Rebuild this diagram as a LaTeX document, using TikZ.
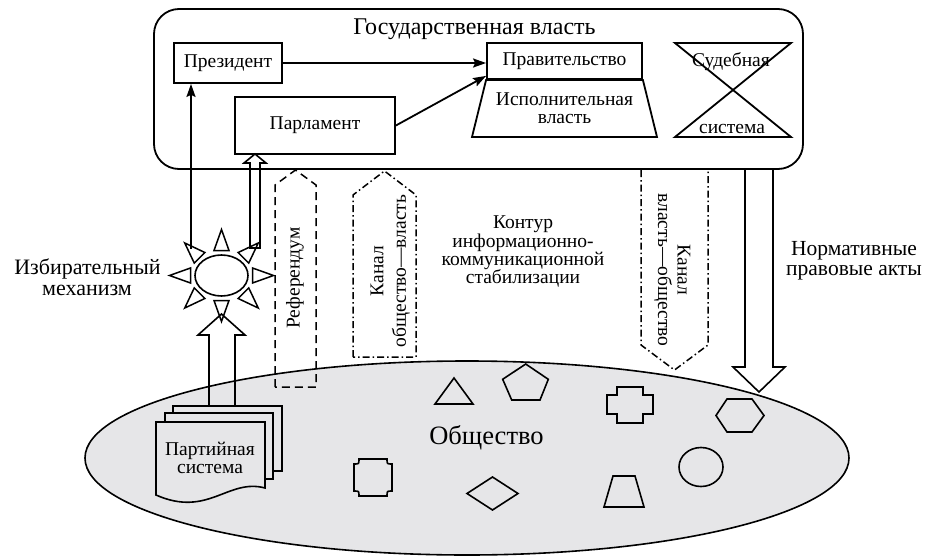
\documentclass[tikz,border=0pt]{standalone}
\usepackage{fontspec}
\setmainfont{Liberation Serif}
\usetikzlibrary{arrows.meta,calc,shapes.geometric}
\definecolor{socgray}{RGB}{230,230,232}
\begin{document}
\begin{tikzpicture}[x=1pt,y=-1pt,
  box/.style={draw, line width=1.8pt, inner sep=0pt},
  fm/.style={font=\fontsize{19.5}{21}\selectfont},
  fl/.style={font=\fontsize{22}{24}\selectfont},
  tb/.style={anchor=base, inner sep=0pt},
  arr/.style={line width=1.8pt, -{Stealth[length=13pt,width=9pt,inset=2pt]}},
  hollow/.style={line width=1.6pt, line join=miter},
  chdash/.style={line width=1.5pt, dash pattern=on 8pt off 5pt},
  chdot/.style={line width=1.5pt, dash pattern=on 7pt off 3pt on 1.5pt off 3pt},
  shp/.style={draw, line width=1.6pt, line join=miter},
  doc/.style={draw, fill=socgray, line width=1.6pt},
]
\useasboundingbox (0,0) rectangle (930,557);

% ---------- society ----------
\node[draw, ellipse, fill=socgray, line width=1.6pt, minimum width=764, minimum height=194, inner sep=0pt] (soc) at (467,458) {};
\node[tb, font=\fontsize{26.5}{28}\selectfont] (soctxt) at (486.5,444) {Общество};

% shapes inside society
\draw[shp] (435,404) -- (473,404) -- (454,378) -- cycle;
\draw[shp] (525.7,364) -- (548.3,379.3) -- (540,400) -- (511.7,400) -- (502.7,379.3) -- cycle;
\draw[shp] (617,387) -- (643,387) -- (643,395) -- (653,395) -- (653,414) -- (643,414) -- (643,423) -- (617,423) -- (617,414) -- (607,414) -- (607,395) -- (617,395) -- cycle;
\draw[shp] (727,399) -- (752,399) -- (764,415.5) -- (752,432) -- (727,432) -- (716,415.5) -- cycle;
\draw[shp] (701,467) ellipse [x radius=22, y radius=19.5];
\draw[shp] (613,476) -- (635,476) -- (644,507) -- (604,507) -- cycle;
\draw[shp] (467,493.5) -- (492.5,477) -- (518,493.5) -- (492.5,510) -- cycle;
\draw[shp] (359,459) -- (387,459) .. controls (387,464) .. (392,464) -- (392,491) .. controls (387,491) .. (387,496) -- (359,496) .. controls (359,491) .. (354,491) -- (354,464) .. controls (359,464) .. (359,459) -- cycle;

% ---------- party system ----------
\draw[doc] (173,406) rectangle (282,471);
\draw[doc] (165,413) rectangle (273,479);
\draw[doc] (156,422) -- (265,422) -- (265,488) .. controls (228,478) and (208,518) .. (156,495) -- cycle;
\node[tb, fm] (party1) at (210,455) {Партийная};
\node[tb, fm] (party2) at (210,473) {система};
\coordinate (partytop) at (222,406);

% ---------- electoral mechanism ----------
\node[draw, ellipse, line width=1.6pt, minimum width=53, minimum height=41, inner sep=0pt] (sun) at (221.5,275.5) {};
\foreach \a in {0,45,...,315}
  \draw[line width=1.5pt, line join=miter, shift={({221.5+31*cos(\a)},{275.5-25*sin(\a)})}, rotate=\a]
    (0,-7.5) -- (21,0) -- (0,7.5) -- cycle;
\node[tb, fl] (el1) at (87.5,274) {Избирательный};
\node[tb, fl] (el2) at (87,295) {механизм};

% hollow arrow party -> sun
\draw[hollow] (209,406) -- (209,335) -- (198,335) -- (221.5,314) -- (245,335) -- (235,335) -- (235,406);

% ---------- state power ----------
\node[draw, line width=1.8pt, rounded corners=25pt, minimum width=649, minimum height=160, inner sep=0pt] (state) at (478.5,89) {};
\node[tb, font=\fontsize{24}{26}\selectfont] (title) at (474.5,34) {Государственная власть};

\node[box, fm, minimum width=108, minimum height=40] (pres) at (228,63) {Президент};
\node[box, fm, minimum width=160, minimum height=57] (parl) at (315,125.5) {Парламент};
\node[box, fm, minimum width=155, minimum height=36] (gov) at (564.5,61) {Правительство};
\draw[line width=1.8pt, line join=miter] (gov.south west) -- (gov.south east) -- (657,137) -- (472,137) -- cycle;
\node[tb, fm] (exec1) at (564.5,105) {Исполнительная};
\node[tb, fm] (exec2) at (564.5,123) {власть};

\draw[line width=1.8pt, line join=miter] (675,43) -- (791,43) -- (675,137) -- (791,137) -- cycle;
\node[tb, fm] (court1) at (731,66) {Судебная};
\node[tb, fm] (court2) at (732,133) {система};

% arrows inside state
\draw[arr] (pres.east) -- (pres.east -| gov.west);
\draw[arr] (parl.east) -- ($(gov.south west)+(0,-4)$);

% sun -> president
\coordinate (sunup) at (191,249);
\draw[arr] (sunup) -- (sunup |- pres.south);

% hollow arrow sun -> parliament
\draw[hollow] (250,248) -- (250,163) -- (244,163) -- (255,154) -- (266,163) -- (260,163) -- (260,248) -- cycle;

% ---------- channels ----------
\draw[chdash] (275,387) -- (275,185) -- (295.5,170) -- (316,185) -- (316,387) -- cycle;
\node[fm, rotate=90, inner sep=0pt] (ref) at (295,278) {Референдум};

\draw[chdot] (353,357) -- (353,195) -- (384.5,171) -- (416,195) -- (416,357) -- cycle;
\node[fm, rotate=90, inner sep=0pt] (ch1a) at (377,271) {Канал};
\node[fm, rotate=90, inner sep=0pt] (ch1b) at (401,271) {общество—власть};

\draw[chdot] (641,170) -- (641,345) -- (674.5,370) -- (708,345) -- (708,170);
\node[fm, rotate=-90, inner sep=0pt] (ch2a) at (684,270) {Канал};
\node[fm, rotate=-90, inner sep=0pt] (ch2b) at (663,270) {власть—общество};

\node[tb, fm] (kont1) at (523,228) {Контур};
\node[tb, fm] (kont2) at (523,247) {информационно-};
\node[tb, fm] (kont3) at (523,265) {коммуникационной};
\node[tb, fm] (kont4) at (523,283) {стабилизации};

% ---------- normative acts ----------
\draw[hollow] (745,169) -- (745,367) -- (733,367) -- (759,392) -- (785,367) -- (773,367) -- (773,169);
\node[tb, font=\fontsize{21.5}{23}\selectfont] (norm1) at (854,255) {Нормативные};
\node[tb, font=\fontsize{21.5}{23}\selectfont] (norm2) at (854,275) {правовые акты};

\end{tikzpicture}
\end{document}
